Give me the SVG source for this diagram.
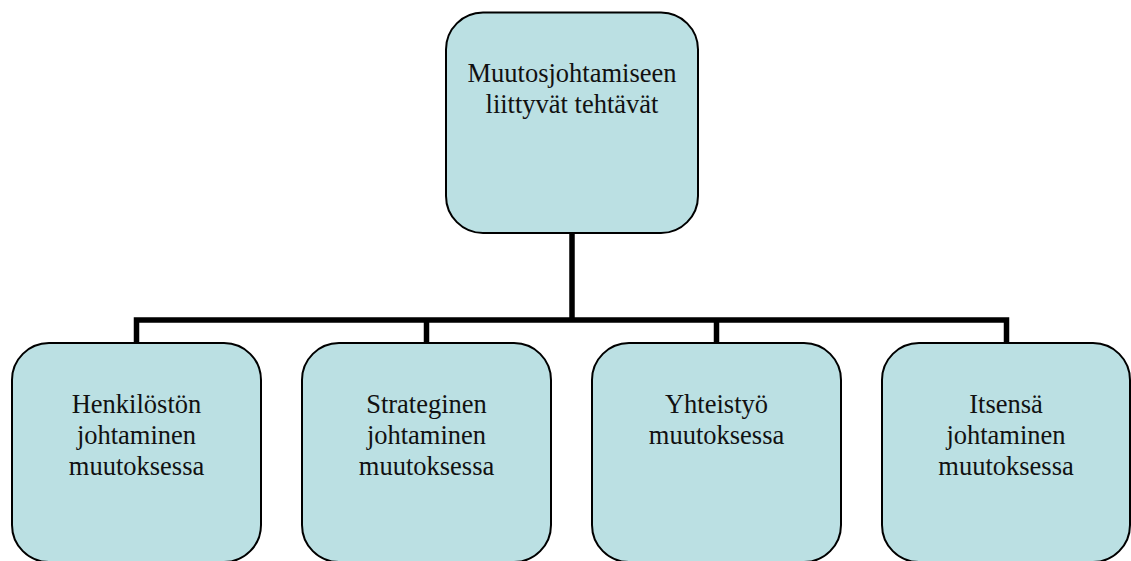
<svg xmlns="http://www.w3.org/2000/svg" width="1131" height="561" viewBox="0 0 1131 561">
  <style>
    .box { fill: #BBE0E3; stroke: #000; stroke-width: 2; }
    .lbl { font-family: "Liberation Serif", "Times New Roman", serif; font-size: 26.5px; fill: #111; text-anchor: middle; }
    .conn { fill: none; stroke: #000; stroke-width: 5.5; stroke-linecap: butt; stroke-linejoin: miter; }
  </style>
  <rect x="0" y="0" width="1131" height="561" fill="#fff"/>
  <g id="connectors">
    <path class="conn" d="M572,233 V320"/>
    <path class="conn" d="M136.5,343 V320 H1006.5 V343"/>
    <path class="conn" d="M426.5,320 V343"/>
    <path class="conn" d="M716.5,320 V343"/>
  </g>
  <g id="root">
    <rect class="box" x="446" y="12.5" width="252" height="220.5" rx="37" ry="37"/>
    <text class="lbl" x="572" y="82">Muutosjohtamiseen</text>
    <text class="lbl" x="572" y="113">liittyvät tehtävät</text>
  </g>
  <g id="henkilosto">
    <rect class="box" x="12" y="343" width="249" height="219" rx="37" ry="37"/>
    <text class="lbl" x="136.5" y="413">Henkilöstön</text>
    <text class="lbl" x="136.5" y="444">johtaminen</text>
    <text class="lbl" x="136.5" y="475">muutoksessa</text>
  </g>
  <g id="strateginen">
    <rect class="box" x="302" y="343" width="249" height="219" rx="37" ry="37"/>
    <text class="lbl" x="426.5" y="413">Strateginen</text>
    <text class="lbl" x="426.5" y="444">johtaminen</text>
    <text class="lbl" x="426.5" y="475">muutoksessa</text>
  </g>
  <g id="yhteistyo">
    <rect class="box" x="592" y="343" width="249" height="219" rx="37" ry="37"/>
    <text class="lbl" x="716.5" y="413">Yhteistyö</text>
    <text class="lbl" x="716.5" y="444">muutoksessa</text>
  </g>
  <g id="itsensa">
    <rect class="box" x="882" y="343" width="248" height="219" rx="37" ry="37"/>
    <text class="lbl" x="1006" y="413">Itsensä</text>
    <text class="lbl" x="1006" y="444">johtaminen</text>
    <text class="lbl" x="1006" y="475">muutoksessa</text>
  </g>
</svg>
